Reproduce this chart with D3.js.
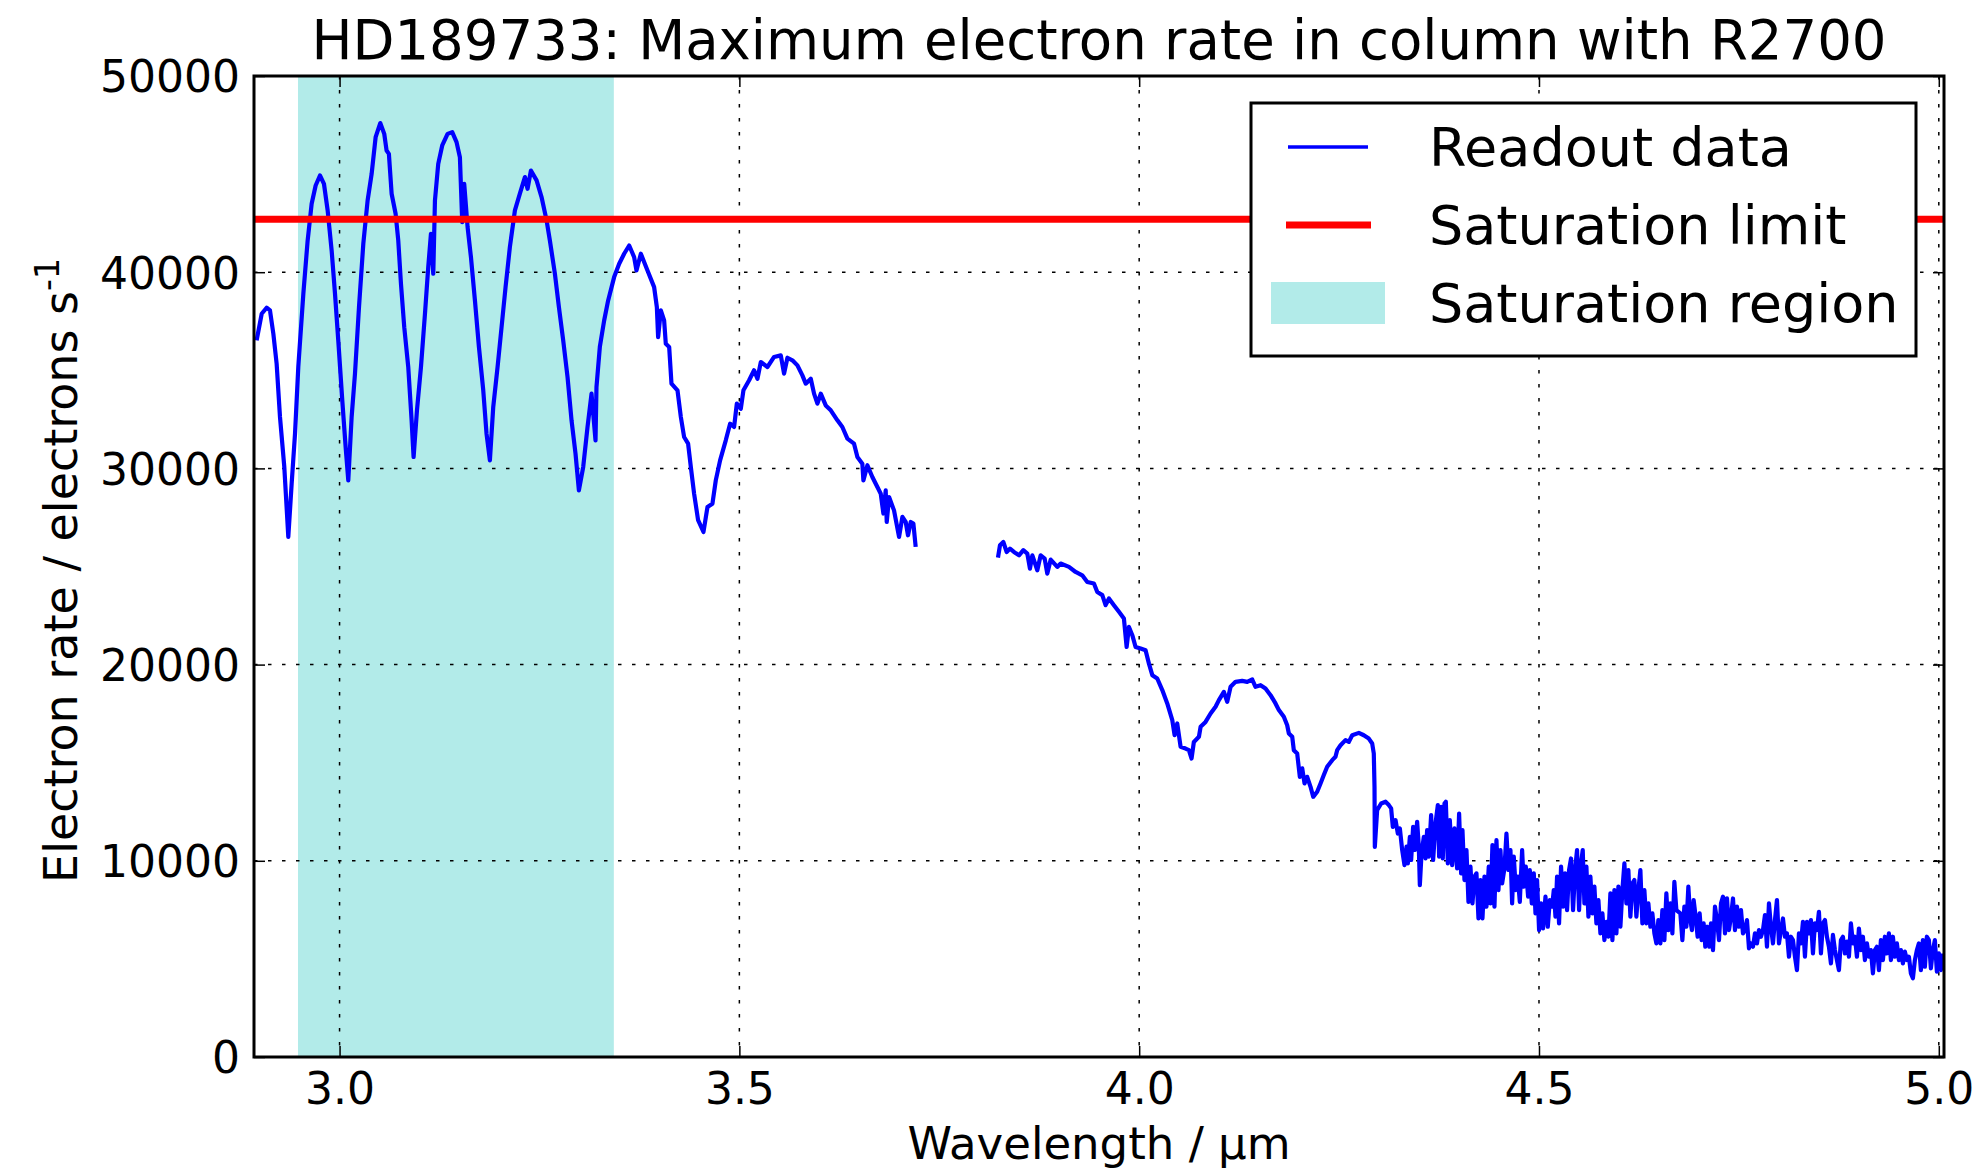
<!DOCTYPE html>
<meta charset="utf-8">
<title>HD189733 electron rate</title>
<style>
body {
  margin: 0;
  background: #fff;
}
text {
  font-family: "DejaVu Sans", sans-serif;
  fill: #000;
}
.grid line {
  stroke: #000;
  stroke-width: 1.5px;
  stroke-dasharray: 3.5, 10.5;
}
</style>
<svg></svg>
<script src="https://d3js.org/d3.v7.min.js"></script>
<script>
// Readout data (wavelength in um, rate in electrons/s)
var wlBandA = [2.8963, 2.9026, 2.9088, 2.9130, 2.9172, 2.9213, 2.9255, 2.9309, 2.9359, 2.9401, 2.9443, 2.9484, 2.9547, 2.9601, 2.9651, 2.9701, 2.9755, 2.9805, 2.9851, 2.9901, 2.9943, 2.9984, 3.0034, 3.0076, 3.0109, 3.0151, 3.0193, 3.0243, 3.0297, 3.0351, 3.0401, 3.0451, 3.0509, 3.0559, 3.0588, 3.0617, 3.0651, 3.0701, 3.0734, 3.0768, 3.0809, 3.0859, 3.0901, 3.0926, 3.0968, 3.1018, 3.1068, 3.1109, 3.1143, 3.1172, 3.1193, 3.1234, 3.1284, 3.1351, 3.1409, 3.1463, 3.1505, 3.1534, 3.1559, 3.1601, 3.1643, 3.1693, 3.1743, 3.1797, 3.1838, 3.1880, 3.1922, 3.1976, 3.2026, 3.2076, 3.2130, 3.2193, 3.2255, 3.2318, 3.2351, 3.2393, 3.2464, 3.2526, 3.2589, 3.2630, 3.2693, 3.2743, 3.2797, 3.2851, 3.2901, 3.2951, 3.2993, 3.3047, 3.3101, 3.3151, 3.3201, 3.3213, 3.3255, 3.3309, 3.3359];
var rateBandA = [36520, 37880, 38190, 38050, 36860, 35340, 32620, 30070, 26510, 29220, 31770, 35170, 38900, 41620, 43490, 44420, 44930, 44500, 43150, 41110, 38900, 36520, 33470, 31090, 29390, 32620, 34830, 38220, 41450, 43660, 45010, 46880, 47600, 47050, 46200, 46030, 44000, 42980, 41620, 39410, 37200, 35170, 32450, 30580, 32960, 35170, 37880, 40260, 41960, 39920, 43660, 45520, 46460, 47050, 47140, 46630, 45860, 42550, 44500, 42300, 40770, 38560, 36190, 33980, 31770, 30410, 33130, 35170, 37200, 39240, 41280, 43150, 44000, 44850, 44250, 45180, 44680, 43830, 42640, 41620, 39920, 38220, 36520, 34660, 32450, 30750, 28880, 30070, 32110, 33810, 31430, 34150, 36190, 37540, 38560];

var wlBandB = [3.3434, 3.3497, 3.3559, 3.3622, 3.3684, 3.3713, 3.3768, 3.3851, 3.3934, 3.3968, 3.3984, 3.4018, 3.4059, 3.4080, 3.4122, 3.4151, 3.4226, 3.4268, 3.4309, 3.4359, 3.4393, 3.4434, 3.4484, 3.4551, 3.4601, 3.4663, 3.4705, 3.4759, 3.4830, 3.4884, 3.4934, 3.4968, 3.5018, 3.5051, 3.5122, 3.5184, 3.5226, 3.5268, 3.5351, 3.5434, 3.5518, 3.5559, 3.5601, 3.5663, 3.5726, 3.5788, 3.5830, 3.5893, 3.5934, 3.5976, 3.6018, 3.6080, 3.6143, 3.6226, 3.6288, 3.6351, 3.6434, 3.6476, 3.6538, 3.6551, 3.6601, 3.6663, 3.6726, 3.6768, 3.6801, 3.6830, 3.6843, 3.6872, 3.6934, 3.6997, 3.7039, 3.7080, 3.7109, 3.7143, 3.7176, 3.7205];
var rateBandB = [39750, 40430, 40940, 41360, 40770, 40090, 40940, 40090, 39240, 38220, 36690, 38050, 37540, 36350, 36190, 34320, 33980, 32620, 31600, 31260, 30070, 28710, 27360, 26760, 28030, 28200, 29390, 30410, 31430, 32280, 32110, 33300, 33040, 33980, 34490, 35000, 34570, 35420, 35170, 35680, 35760, 34830, 35640, 35510, 35250, 34740, 34320, 34570, 33810, 33300, 33810, 33210, 32960, 32450, 32110, 31520, 31260, 30580, 30240, 29390, 30160, 29560, 29050, 28710, 27700, 28880, 27270, 28540, 27860, 26510, 27530, 27270, 26590, 27270, 27190, 26000];

var wlBandC = [3.8234, 3.8259, 3.8301, 3.8343, 3.8384, 3.8434, 3.8497, 3.8551, 3.8601, 3.8634, 3.8664, 3.8726, 3.8768, 3.8818, 3.8851, 3.8893, 3.8976, 3.9018, 3.9122, 3.9205, 3.9288, 3.9351, 3.9434, 3.9476, 3.9539, 3.9580, 3.9622, 3.9684, 3.9747, 3.9809, 3.9843, 3.9872, 3.9914, 3.9955, 4.0018, 4.0080, 4.0122, 4.0164, 4.0226, 4.0289, 4.0351, 4.0414, 4.0443, 4.0476, 4.0518, 4.0580, 4.0622, 4.0655, 4.0684, 4.0747, 4.0768, 4.0830, 4.0893, 4.0955, 4.0997, 4.1059, 4.1101, 4.1143, 4.1205, 4.1288, 4.1351, 4.1414, 4.1455, 4.1518, 4.1580, 4.1643, 4.1705, 4.1747, 4.1809, 4.1851, 4.1872, 4.1914, 4.1934, 4.1976, 4.2009, 4.2039, 4.2068, 4.2101, 4.2143, 4.2176, 4.2226, 4.2268, 4.2309, 4.2351, 4.2414, 4.2455, 4.2476, 4.2518, 4.2580, 4.2622, 4.2664, 4.2747, 4.2809, 4.2872, 4.2914, 4.2934, 4.2943, 4.2947];
var rateBandC = [25450, 26080, 26250, 25740, 25910, 25740, 25570, 25830, 25660, 24890, 25570, 24810, 25570, 25400, 24640, 25350, 24980, 25150, 24980, 24720, 24550, 24210, 24130, 23700, 23540, 23030, 23370, 23030, 22690, 22350, 20900, 21920, 21500, 20900, 20820, 20730, 20050, 19460, 19290, 18700, 18020, 17170, 16400, 17000, 15810, 15720, 15640, 15210, 16060, 16320, 16830, 17080, 17510, 17850, 18190, 18610, 18100, 18870, 19120, 19170, 19120, 19240, 18870, 18950, 18780, 18440, 18020, 17680, 17340, 16910, 16490, 16320, 15640, 15470, 14280, 14710, 13940, 14280, 13770, 13260, 13520, 13940, 14370, 14790, 15130, 15300, 15640, 15890, 16150, 16060, 16400, 16520, 16400, 16230, 15980, 15470, 13770, 10710];

var wlNoiseA = [4.2976, 4.3026, 4.3081, 4.3122, 4.3151, 4.3172, 4.3206, 4.3235, 4.3260, 4.3289, 4.3318, 4.3343, 4.3360, 4.3385, 4.3401, 4.3426, 4.3447, 4.3476, 4.3497, 4.3510, 4.3531, 4.3560, 4.3581, 4.3601, 4.3622, 4.3651, 4.3676, 4.3706, 4.3735, 4.3751, 4.3776, 4.3797, 4.3818, 4.3835, 4.3860, 4.3885, 4.3914, 4.3943, 4.3976, 4.4001, 4.4026, 4.4043, 4.4068, 4.4093, 4.4118, 4.4143, 4.4168, 4.4193, 4.4218, 4.4243, 4.4268, 4.4293, 4.4318, 4.4343, 4.4372, 4.4393, 4.4418, 4.4443, 4.4468, 4.4493, 4.4518, 4.4539, 4.4568, 4.4593, 4.4618, 4.4643, 4.4664, 4.4685, 4.4710, 4.4735, 4.4760, 4.4789, 4.4810, 4.4835, 4.4864, 4.4885, 4.4910, 4.4935, 4.4956, 4.4976, 4.5001, 4.5026, 4.5051, 4.5081, 4.5110, 4.5135, 4.5164, 4.5185, 4.5206, 4.5226, 4.5251, 4.5276, 4.5301, 4.5326, 4.5351, 4.5376, 4.5401, 4.5426, 4.5451, 4.5476, 4.5501, 4.5526, 4.5547, 4.5568, 4.5593, 4.5618, 4.5643, 4.5668, 4.5693, 4.5718, 4.5743, 4.5768, 4.5793, 4.5818, 4.5843, 4.5868, 4.5893, 4.5918, 4.5943, 4.5968, 4.5993, 4.6018, 4.6043, 4.6068, 4.6093, 4.6118, 4.6143, 4.6168, 4.6193, 4.6218, 4.6243, 4.6268, 4.6293, 4.6318, 4.6343, 4.6368, 4.6393, 4.6418, 4.6443, 4.6468, 4.6493, 4.6518, 4.6543, 4.6568, 4.6593, 4.6618, 4.6643, 4.6668, 4.6693, 4.6718];
var rateNoiseA = [12580, 12920, 13010, 12840, 12670, 11730, 12070, 11390, 11650, 10550, 9780, 10720, 9870, 11220, 10040, 11730, 10550, 11990, 10720, 8760, 10380, 11220, 10120, 11560, 10210, 12330, 10040, 11900, 12840, 10210, 12750, 10120, 12920, 13010, 9870, 12070, 9780, 11650, 9610, 12410, 9360, 11560, 9020, 10550, 7910, 9700, 7830, 9190, 9360, 7060, 9020, 7060, 9190, 7660, 9700, 7830, 10800, 7660, 11050, 8510, 10550, 8850, 9610, 11390, 9530, 10550, 7830, 10210, 8510, 9190, 7910, 10550, 8680, 9700, 8170, 9530, 7830, 9360, 7320, 9020, 6470, 7830, 6560, 8170, 6640, 8000, 7660, 8510, 7150, 9190, 6810, 9700, 7660, 9360, 7490, 9530, 10120, 7490, 9530, 10550, 7490, 9870, 10550, 7830, 9700, 7150, 9190, 7320, 8680, 6810, 8000, 6300, 7320, 5960, 6890, 6130, 8340, 5960, 8510, 6300, 8680, 6640, 8510, 9870, 7830, 9530, 7150, 8850, 9020, 7150, 8510, 9530, 6810, 8510, 6810, 7830, 6640, 7320, 6300, 5790, 6980, 5790, 7490, 5960, 8340, 6470, 7830, 6300, 8930, 7490];

var wlNoiseB = [4.6768, 4.6793, 4.6818, 4.6843, 4.6868, 4.6893, 4.6913, 4.6934, 4.6959, 4.6984, 4.7009, 4.7034, 4.7059, 4.7080, 4.7105, 4.7130, 4.7151, 4.7176, 4.7201, 4.7226, 4.7251, 4.7276, 4.7301, 4.7326, 4.7351, 4.7376, 4.7401, 4.7426, 4.7451, 4.7476, 4.7501, 4.7526, 4.7551, 4.7576, 4.7601, 4.7626, 4.7651, 4.7676, 4.7701, 4.7726, 4.7751, 4.7776, 4.7801, 4.7826, 4.7851, 4.7876, 4.7901, 4.7926, 4.7951, 4.7976, 4.8001, 4.8026, 4.8051, 4.8076, 4.8101, 4.8126, 4.8151, 4.8176, 4.8201, 4.8226, 4.8251, 4.8276, 4.8301, 4.8326, 4.8351, 4.8376, 4.8401, 4.8426, 4.8451, 4.8476, 4.8501, 4.8526, 4.8551, 4.8576, 4.8601, 4.8626, 4.8651, 4.8676, 4.8701, 4.8726, 4.8751, 4.8776, 4.8801, 4.8826, 4.8851, 4.8876, 4.8901, 4.8926, 4.8951, 4.8976, 4.9001, 4.9026, 4.9051, 4.9076, 4.9101, 4.9126, 4.9151, 4.9176, 4.9201, 4.9226, 4.9251, 4.9276, 4.9301, 4.9326, 4.9351, 4.9376, 4.9401, 4.9426, 4.9451, 4.9476, 4.9501, 4.9526, 4.9551, 4.9576, 4.9601, 4.9626, 4.9651, 4.9676, 4.9701, 4.9726, 4.9751, 4.9776, 4.9801, 4.9826, 4.9851, 4.9876, 4.9901, 4.9926, 4.9951, 4.9976, 5.0001, 5.0026, 5.0043];
var rateNoiseB = [7320, 5960, 7660, 6640, 8680, 6980, 6470, 8000, 7150, 6130, 7320, 5960, 6810, 5620, 6640, 5620, 6810, 5450, 7660, 6980, 5960, 7830, 8170, 6300, 8080, 6470, 7150, 8080, 6470, 7660, 6640, 7490, 6300, 6470, 6980, 5540, 5790, 5620, 6300, 5790, 6470, 6130, 6470, 7230, 5620, 7830, 6640, 5790, 6980, 8000, 5790, 6470, 7060, 6130, 6300, 5110, 6130, 5960, 5110, 4430, 6300, 5790, 6890, 5110, 6890, 6300, 6980, 5280, 6810, 6470, 7400, 5280, 6810, 6980, 6130, 5620, 4770, 6220, 5450, 4940, 4430, 5960, 6130, 5280, 5880, 5110, 6810, 5790, 6130, 5110, 6550, 5450, 6130, 4940, 5790, 5110, 5450, 4260, 5450, 5620, 4430, 5960, 4940, 6130, 5280, 6300, 4940, 6130, 5110, 5790, 4940, 5450, 4770, 5370, 4940, 5110, 4260, 4010, 4940, 5450, 5790, 4430, 5960, 4600, 6130, 5960, 4520, 5450, 5960, 4350, 5280, 4430, 5280];

var saturationLimit = 42700;
var saturationRegion = [2.948, 3.343];

var xTicks = [3.0, 3.5, 4.0, 4.5, 5.0];
var yTicks = [0, 10000, 20000, 30000, 40000, 50000];
var xDomain = [2.893, 5.0065];
var yDomain = [0, 50000];

var legendItems = ["Readout data", "Saturation limit", "Saturation region"];

var width = 1981,
    height = 1168;
var margin = {top: 76, right: 37, bottom: 111, left: 254};
var innerW = width - margin.left - margin.right,
    innerH = height - margin.top - margin.bottom;

var svg = d3.select("svg")
    .attr("width", width)
    .attr("height", height)
    .style("display", "block");

svg.append("rect")
    .attr("width", width)
    .attr("height", height)
    .attr("fill", "#fff");

var x = d3.scaleLinear().domain(xDomain).range([0, innerW]);
var y = d3.scaleLinear().domain(yDomain).range([innerH, 0]);

var g = svg.append("g")
    .attr("transform", "translate(" + margin.left + "," + margin.top + ")");

g.append("clipPath")
    .attr("id", "plotclip")
  .append("rect")
    .attr("width", innerW)
    .attr("height", innerH);

// saturation band
g.append("rect")
    .attr("x", x(saturationRegion[0]))
    .attr("y", 0)
    .attr("width", x(saturationRegion[1]) - x(saturationRegion[0]))
    .attr("height", innerH)
    .attr("fill", "#b2ebe9");

// dotted grid
var grid = g.append("g").attr("class", "grid");
grid.selectAll(".gx")
    .data(xTicks)
  .enter().append("line")
    .attr("x1", function(d) { return x(d); })
    .attr("x2", function(d) { return x(d); })
    .attr("y1", 0)
    .attr("y2", innerH);
grid.selectAll(".gy")
    .data(yTicks.slice(1, -1))
  .enter().append("line")
    .attr("x1", 0)
    .attr("x2", innerW)
    .attr("y1", function(d) { return y(d); })
    .attr("y2", function(d) { return y(d); });

// build one series with a gap between 3.72 and 3.82 um
function pairs(wl, rate) {
  return wl.map(function(w, i) { return [w, rate[i]]; });
}
var series = pairs(wlBandA, rateBandA)
    .concat(pairs(wlBandB, rateBandB))
    .concat([[3.77, null]])
    .concat(pairs(wlBandC, rateBandC))
    .concat(pairs(wlNoiseA, rateNoiseA))
    .concat(pairs(wlNoiseB, rateNoiseB));

var line = d3.line()
    .defined(function(d) { return d[1] != null; })
    .x(function(d) { return x(d[0]); })
    .y(function(d) { return y(d[1]); });

var plot = g.append("g").attr("clip-path", "url(#plotclip)");

plot.append("path")
    .datum(series)
    .attr("d", line)
    .attr("fill", "none")
    .attr("stroke", "#0000ff")
    .attr("stroke-width", 4.2)
    .attr("stroke-linejoin", "round");

plot.append("line")
    .attr("x1", 0)
    .attr("x2", innerW)
    .attr("y1", y(saturationLimit))
    .attr("y2", y(saturationLimit))
    .attr("stroke", "#ff0000")
    .attr("stroke-width", 7);

// axes: ticks inside on all four sides
var tickLen = 11;
var axisBottom = d3.axisBottom(x).tickValues(xTicks).tickSize(-tickLen).tickPadding(16).tickFormat(d3.format(".1f"));
var axisTop = d3.axisTop(x).tickValues(xTicks).tickSize(-tickLen).tickFormat("");
var axisLeft = d3.axisLeft(y).tickValues(yTicks).tickSize(-tickLen).tickPadding(14).tickFormat(d3.format("d"));
var axisRight = d3.axisRight(y).tickValues(yTicks).tickSize(-tickLen).tickFormat("");

function styleAxis(sel) {
  sel.select(".domain").remove();
  sel.selectAll(".tick line").attr("stroke", "#000").attr("stroke-width", 1.5);
  sel.selectAll(".tick text")
      .attr("fill", "#000")
      .style("font-family", "'DejaVu Sans', sans-serif")
      .style("font-size", "44px");
}

g.append("g").attr("transform", "translate(0," + innerH + ")").call(axisBottom).call(styleAxis)
    .selectAll(".tick text").attr("dy", "0.71em");
g.append("g").call(axisTop).call(styleAxis);
g.append("g").call(axisLeft).call(styleAxis)
    .selectAll(".tick text").attr("dy", "0.36em");
g.append("g").attr("transform", "translate(" + innerW + ",0)").call(axisRight).call(styleAxis);

// frame
g.append("rect")
    .attr("width", innerW)
    .attr("height", innerH)
    .attr("fill", "none")
    .attr("stroke", "#000")
    .attr("stroke-width", 3);

// title and axis labels
svg.append("text")
    .attr("x", margin.left + innerW / 2)
    .attr("y", 59)
    .attr("text-anchor", "middle")
    .style("font-size", "54.5px")
    .text("HD189733: Maximum electron rate in column with R2700");

svg.append("text")
    .attr("x", margin.left + innerW / 2)
    .attr("y", 1159)
    .attr("text-anchor", "middle")
    .style("font-size", "45px")
    .text("Wavelength / \u00b5m");

var ylab = svg.append("text")
    .attr("transform", "translate(77," + (margin.top + innerH / 2 + 4) + ") rotate(-90)")
    .attr("text-anchor", "middle")
    .style("font-size", "46px");
ylab.append("tspan").text("Electron rate / electrons s");
ylab.append("tspan")
    .attr("dy", "-0.55em")
    .style("font-size", "33px")
    .text("-1");

// legend
var lg = svg.append("g").attr("transform", "translate(1251,103)");
lg.append("rect")
    .attr("width", 665)
    .attr("height", 253)
    .attr("fill", "#fff")
    .attr("stroke", "#000")
    .attr("stroke-width", 3);

var rowY = [44, 122, 200];
lg.append("line")
    .attr("x1", 37).attr("x2", 117)
    .attr("y1", rowY[0]).attr("y2", rowY[0])
    .attr("stroke", "#0000ff").attr("stroke-width", 3.6);
lg.append("line")
    .attr("x1", 35).attr("x2", 120)
    .attr("y1", rowY[1]).attr("y2", rowY[1])
    .attr("stroke", "#ff0000").attr("stroke-width", 7);
lg.append("rect")
    .attr("x", 20).attr("y", rowY[2] - 21)
    .attr("width", 114).attr("height", 42)
    .attr("fill", "#b2ebe9");

lg.selectAll(".lt")
    .data(legendItems)
  .enter().append("text")
    .attr("x", 178)
    .attr("y", function(d, i) { return rowY[i] + 19; })
    .style("font-size", "54px")
    .text(function(d) { return d; });
</script>
